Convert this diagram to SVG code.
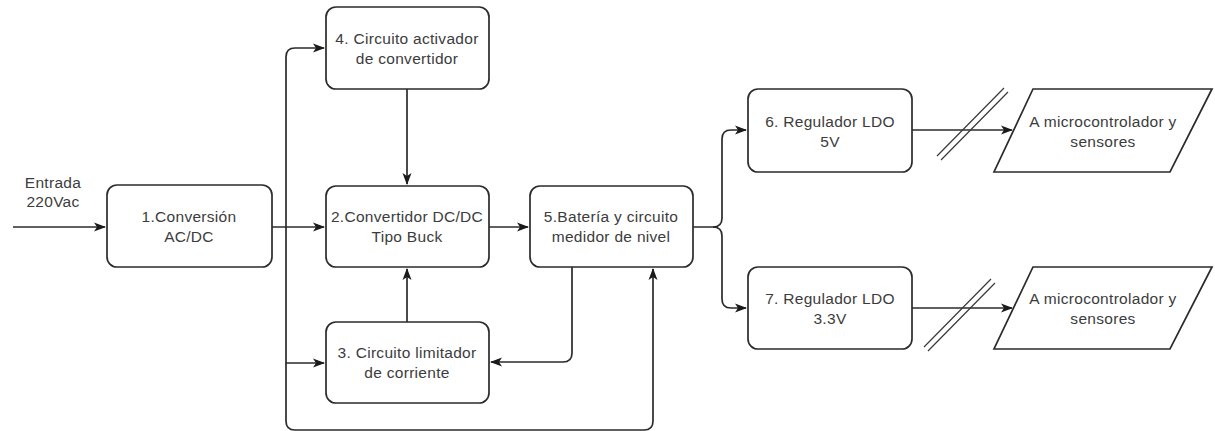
<svg xmlns="http://www.w3.org/2000/svg" width="1215" height="431" viewBox="0 0 1215 431">
  <defs>
    <marker id="arrow" markerWidth="12" markerHeight="12" refX="11" refY="6" orient="auto" markerUnits="userSpaceOnUse">
      <path d="M0,1.5 L12,6 L0,10.5 L3,6 Z" fill="#1a1a1a"/>
    </marker>
    <style>
      .box { fill: #ffffff; stroke: #2b2b2b; stroke-width: 1.7; }
      .wire { fill: none; stroke: #2b2b2b; stroke-width: 1.7; }
      .slash { fill: none; stroke: #3a3a3a; stroke-width: 1.2; }
      .lbl { font-family: "Liberation Sans", Arial, sans-serif; font-size: 15.5px; letter-spacing: 0.3px; fill: #3c3c3c; text-anchor: middle; }
    </style>
  </defs>
  <rect width="1215" height="431" fill="#ffffff"/>

  <!-- connectors -->
  <g id="connectors">
    <path class="wire" d="M13,227 H105" marker-end="url(#arrow)"/>
    <path class="wire" d="M272,227 H324" marker-end="url(#arrow)"/>
    <path class="wire" d="M286,227 V57 Q286,48 295,48 H324" marker-end="url(#arrow)"/>
    <path class="wire" d="M286,227 V363 H324" marker-end="url(#arrow)"/>
    <path class="wire" d="M286,363 V421 Q286,430 295,430 H644 Q653,430 653,421 V269" marker-end="url(#arrow)"/>
    <path class="wire" d="M407,89 V184" marker-end="url(#arrow)"/>
    <path class="wire" d="M407,322 V269" marker-end="url(#arrow)"/>
    <path class="wire" d="M489,227 H528" marker-end="url(#arrow)"/>
    <path class="wire" d="M572,267 V353 Q572,362 563,362 H491" marker-end="url(#arrow)"/>
    <path class="wire" d="M693,227 H713 Q722,227 722,218 V139 Q722,130 731,130 H746" marker-end="url(#arrow)"/>
    <path class="wire" d="M713,227 Q722,227 722,236 V299 Q722,308 731,308 H746" marker-end="url(#arrow)"/>
    <path class="wire" d="M912,130 H1012" marker-end="url(#arrow)"/>
    <path class="wire" d="M912,308 H1012" marker-end="url(#arrow)"/>
    <!-- bus markers -->
    <path class="slash" d="M937,156 L1004,88 M941,160 L1008,92"/>
    <path class="slash" d="M924,347 L991,279 M928,351 L995,283"/>
  </g>

  <g id="input-label">
    <text class="lbl" x="53" y="188">Entrada</text>
    <text class="lbl" x="53" y="207">220Vac</text>
  </g>

  <g id="node1">
    <rect class="box" x="107" y="185" width="165" height="82" rx="10"/>
    <text class="lbl" x="189" y="222">1.Conversión</text>
    <text class="lbl" x="189" y="242">AC/DC</text>
  </g>

  <g id="node4">
    <rect class="box" x="326" y="7" width="163" height="82" rx="10"/>
    <text class="lbl" x="407" y="44">4. Circuito activador</text>
    <text class="lbl" x="407" y="64">de convertidor</text>
  </g>

  <g id="node2">
    <rect class="box" x="326" y="186" width="163" height="81" rx="10"/>
    <text class="lbl" x="407" y="222">2.Convertidor DC/DC</text>
    <text class="lbl" x="407" y="242">Tipo Buck</text>
  </g>

  <g id="node3">
    <rect class="box" x="326" y="322" width="163" height="81" rx="10"/>
    <text class="lbl" x="407" y="358">3. Circuito limitador</text>
    <text class="lbl" x="407" y="378">de corriente</text>
  </g>

  <g id="node5">
    <rect class="box" x="530" y="186" width="163" height="81" rx="10"/>
    <text class="lbl" x="611" y="222">5.Batería y circuito</text>
    <text class="lbl" x="611" y="242">medidor de nivel</text>
  </g>

  <g id="node6">
    <rect class="box" x="748" y="89" width="164" height="83" rx="10"/>
    <text class="lbl" x="830" y="127">6. Regulador LDO</text>
    <text class="lbl" x="830" y="147">5V</text>
  </g>

  <g id="node7">
    <rect class="box" x="748" y="267" width="164" height="82" rx="10"/>
    <text class="lbl" x="830" y="304">7. Regulador LDO</text>
    <text class="lbl" x="830" y="324">3.3V</text>
  </g>

  <g id="out1">
    <polygon class="box" points="1033,89 1212,89 1170,172 994,172"/>
    <text class="lbl" x="1103" y="127">A microcontrolador y</text>
    <text class="lbl" x="1103" y="147">sensores</text>
  </g>

  <g id="out2">
    <polygon class="box" points="1033,267 1212,267 1170,349 994,349"/>
    <text class="lbl" x="1103" y="304">A microcontrolador y</text>
    <text class="lbl" x="1103" y="324">sensores</text>
  </g>
</svg>
